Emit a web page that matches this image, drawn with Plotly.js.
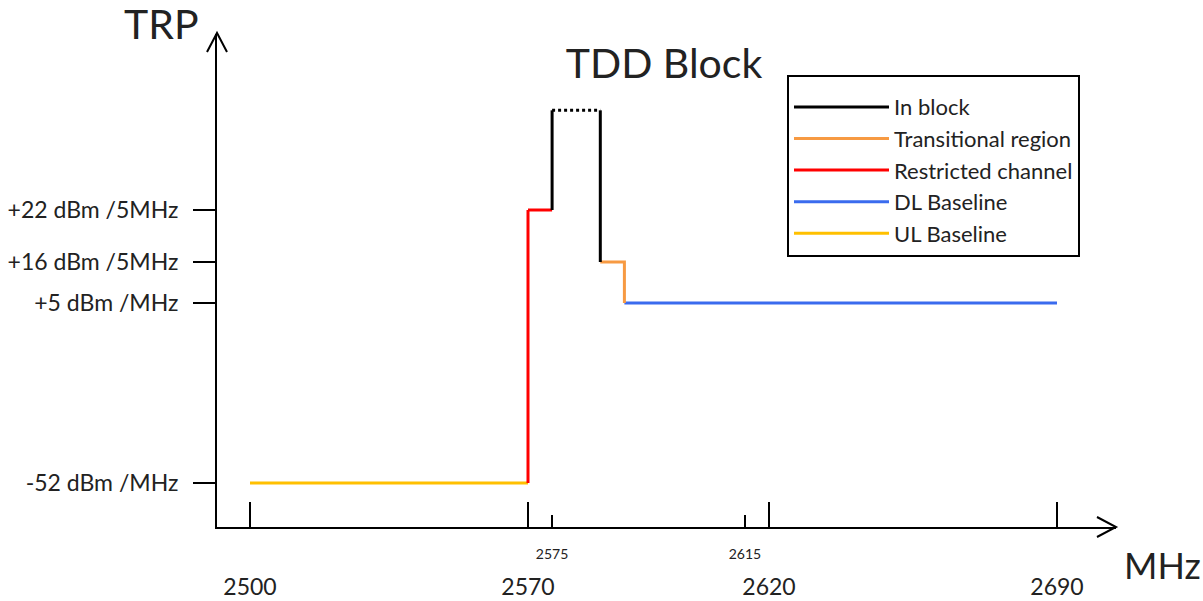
<!DOCTYPE html>
<html>
<head>
<meta charset="utf-8">
<script src="https://cdn.plot.ly/plotly-3.0.1.min.js"></script>
<style>html,body{margin:0;padding:0;background:#fff;}#chart{width:1203px;height:601px;}</style>
</head>
<body>
<div id="chart"></div>
<script>
// Frequencies (MHz) and levels read from the schematic
const ulX = [2500, 2570];
const ulY = [-52, -52];
const restrictedX = [2570, 2570, 2575];
const restrictedY = [-52, 22, 22];
const inBlockX = [2575, 2575, null, 2585, 2585];
const inBlockY = [22, 33.5, null, 33.5, 16];
const inBlockTopX = [2575, 2585];
const inBlockTopY = [33.5, 33.5];
const transX = [2585, 2590, 2590];
const transY = [16, 16, 5];
const dlX = [2590, 2690];
const dlY = [5, 5];

// tick labels
const leftTicks = [2500, 2570];
const blockTicks = [2575, 2615];
const rightTicks = [2620, 2690];
const lowTickVals = [-52];
const lowTickText = ['-52 dBm /MHz'];
const midTickVals = [5, 16];
const midTickText = ['+5 dBm /MHz', '+16 dBm /5MHz'];
const topTickVals = [22];
const topTickText = ['+22 dBm /5MHz'];

// schematic (broken) axes: piecewise-linear like the drawing
const X_BREAKS = [2570, 2620];
const Y_BREAKS = [5, 16];
const X_NAMES = ['x', 'x2', 'x3'];
const Y_NAMES = ['y', 'y2', 'y3'];

const FONT = 'Lato, "Open Sans", "DejaVu Sans", sans-serif';
const TXT = '#222';
const L0 = 217, R0 = 1116, T0 = 34, B0 = 527;
const PW = R0 - L0, PH = B0 - T0;

// axis piece geometry: two calibration values with their pixel positions and the pixel extent
function xPiece(v0, p0, v1, p1, pLo, pHi) {
  const s = (p1 - p0) / (v1 - v0);
  return {range: [v0 + (pLo - p0) / s, v0 + (pHi - p0) / s], domain: [(pLo - L0) / PW, (pHi - L0) / PW]};
}
function yPiece(v0, p0, v1, p1, pBot, pTop) {
  const s = (p0 - p1) / (v1 - v0);
  return {range: [v0 - (pBot - p0) / s, v0 + (p0 - pTop) / s], domain: [(B0 - pBot) / PH, (B0 - pTop) / PH]};
}
const xA = xPiece(2500, 250, 2570, 528, L0, 531);
const xB = xPiece(2570, 528, 2620, 769, 525, 772);
const xC = xPiece(2620, 769, 2690, 1057, 766, R0);
const yL = yPiece(-52, 483, 5, 303, B0, 300);
const yM = yPiece(5, 303, 16, 262, 306, 259);
const yT = yPiece(16, 262, 22, 210, 265, T0);

function cellIndex(v, breaks) { let k = 0; breaks.forEach(b => { if (v > b) k++; }); return k; }

function splitCells(xs, ys) {
  const cells = {};
  function push(key, x0, y0, x1, y1) {
    if (!cells[key]) cells[key] = {x: [], y: []};
    const p = cells[key], n = p.x.length;
    if (n && p.x[n-1] === x0 && p.y[n-1] === y0) { p.x.push(x1); p.y.push(y1); }
    else { if (n) { p.x.push(null); p.y.push(null); } p.x.push(x0, x1); p.y.push(y0, y1); }
  }
  for (let i = 0; i < xs.length - 1; i++) {
    const x0 = xs[i], y0 = ys[i], x1 = xs[i+1], y1 = ys[i+1];
    if ([x0, y0, x1, y1].some(v => v === null)) continue;
    let ts = [0, 1];
    X_BREAKS.forEach(b => { if ((x0 - b) * (x1 - b) < 0) ts.push((b - x0) / (x1 - x0)); });
    Y_BREAKS.forEach(b => { if ((y0 - b) * (y1 - b) < 0) ts.push((b - y0) / (y1 - y0)); });
    ts = ts.sort((a, b) => a - b);
    for (let j = 0; j < ts.length - 1; j++) {
      const ta = ts[j], tb = ts[j+1];
      if (tb - ta < 1e-12) continue;
      const ax = x0 + ta * (x1 - x0), ay = y0 + ta * (y1 - y0);
      const bx = x0 + tb * (x1 - x0), by = y0 + tb * (y1 - y0);
      const key = cellIndex((ax + bx) / 2, X_BREAKS) + ',' + cellIndex((ay + by) / 2, Y_BREAKS);
      push(key, ax, ay, bx, by);
    }
  }
  return cells;
}

const data = [];
function addSeries(name, xs, ys, color, rank, dash, legend) {
  const cells = splitCells(xs, ys);
  let first = legend !== false;
  Object.keys(cells).forEach(key => {
    const [xi, yj] = key.split(',').map(Number);
    data.push({
      type: 'scatter', mode: 'lines', name: name, x: cells[key].x, y: cells[key].y,
      xaxis: X_NAMES[xi], yaxis: Y_NAMES[yj],
      line: {color: color, width: 3, dash: dash || 'solid'},
      showlegend: first, legendrank: rank, legendgroup: name,
      cliponaxis: false, hoverinfo: 'skip', connectgaps: false
    });
    first = false;
  });
}
addSeries('UL Baseline', ulX, ulY, '#FFC000', 5);
addSeries('DL Baseline', dlX, dlY, '#3A6BEE', 4);
addSeries('Restricted channel', restrictedX, restrictedY, '#FF0000', 3);
addSeries('Transitional region', transX, transY, '#F79A42', 2);
addSeries('In block', inBlockX, inBlockY, '#000000', 1);
addSeries('In block', inBlockTopX, inBlockTopY, '#000000', 1, 'dot', false);

const xBase = {
  type: 'linear', showgrid: false, zeroline: false, showline: true, linecolor: '#000', linewidth: 2,
  anchor: 'y', tickmode: 'array', ticks: 'inside', tickwidth: 2, tickcolor: '#000'
};
const bigX = {ticklen: 25, ticklabelstandoff: 38, tickfont: {size: 23, family: FONT, color: TXT}};
const yBase = {
  type: 'linear', showgrid: false, zeroline: false, showline: true, linecolor: '#000', linewidth: 2,
  anchor: 'x', tickmode: 'array', ticks: 'outside', ticklen: 22, tickwidth: 2, tickcolor: '#000',
  ticklabelstandoff: 10, tickfont: {size: 23, family: FONT, color: TXT}
};

const layout = {
  width: 1203, height: 601,
  margin: {l: L0, r: 1203 - R0, t: T0, b: 601 - B0},
  paper_bgcolor: '#fff', plot_bgcolor: 'rgba(0,0,0,0)',
  font: {family: FONT, color: TXT},
  showlegend: true,
  title: {text: 'TDD Block', x: 664/1203, xref: 'container', xanchor: 'center', y: 1 - 64/601, yref: 'container', yanchor: 'middle',
          font: {size: 41, family: FONT, color: TXT}},
  xaxis: Object.assign({}, xBase, bigX, xA, {tickvals: leftTicks, ticktext: leftTicks.map(String)}),
  xaxis2: Object.assign({}, xBase, xB, {tickvals: blockTicks, ticktext: blockTicks.map(String),
          ticklen: 12, ticklabelstandoff: 13, tickfont: {size: 14, family: FONT, color: TXT}}),
  xaxis3: Object.assign({}, xBase, bigX, xC, {tickvals: rightTicks, ticktext: rightTicks.map(String)}),
  yaxis: Object.assign({}, yBase, yL, {tickvals: lowTickVals, ticktext: lowTickText}),
  yaxis2: Object.assign({}, yBase, yM, {tickvals: midTickVals, ticktext: midTickText}),
  yaxis3: Object.assign({}, yBase, yT, {tickvals: topTickVals, ticktext: topTickText}),
  legend: {
    x: (787 - L0)/PW, xanchor: 'left', y: (B0 - 75)/PH, yanchor: 'top',
    bordercolor: '#000', borderwidth: 2, bgcolor: '#fff',
    font: {size: 22, family: FONT, color: TXT},
    title: {text: ' ', font: {size: 7}},
    traceorder: 'grouped', tracegroupgap: 0, itemwidth: 95, entrywidth: 215
  },
  shapes: [
    {type: 'path', xref: 'paper', yref: 'paper', path: 'M' + (-10/PW) + ',' + (475/PH) + ' L0,' + (494/PH) + ' L' + (10/PW) + ',' + (475/PH),
     line: {color: '#000', width: 2}},
    {type: 'path', xref: 'paper', yref: 'paper', path: 'M' + (880/PW) + ',' + (10/PH) + ' L1,0 L' + (880/PW) + ',' + (-10/PH),
     line: {color: '#000', width: 2}}
  ],
  annotations: [
    {text: 'TRP', xref: 'paper', yref: 'paper', x: (161 - L0)/PW, y: (B0 - 24)/PH, xanchor: 'center', yanchor: 'middle',
     showarrow: false, font: {size: 41, family: FONT, color: TXT}},
    {text: 'MHz', xref: 'paper', yref: 'paper', x: (1162 - L0)/PW, y: (B0 - 565)/PH, xanchor: 'center', yanchor: 'middle',
     showarrow: false, font: {size: 36, family: FONT, color: TXT}}
  ]
};

Plotly.newPlot('chart', data, layout, {displayModeBar: false, staticPlot: true});
</script>
</body>
</html>
